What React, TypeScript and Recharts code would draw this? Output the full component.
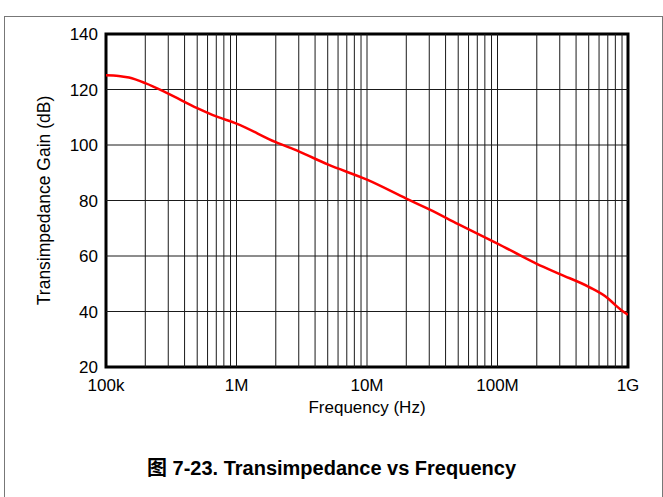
import {
  LineChart, Line, XAxis, YAxis, ReferenceLine, ReferenceArea, Label,
} from "recharts";

// Gain curve
const freqHz = [
  1e5, 1.25e5, 1.5e5, 2e5, 3e5, 5e5, 7e5, 1e6, 2e6, 3e6, 5e6, 1e7, 2e7, 3e7,
  5e7, 1e8, 2e8, 3e8, 5e8, 7e8, 8e8, 9e8, 1e9,
];
const gainDb = [
  125.1, 124.9, 124.3, 122.3, 118.5, 113.3, 110.3, 107.7, 101, 97.7, 93, 87.5,
  80.7, 76.8, 71.5, 64.5, 57.2, 53.5, 48.9, 44.8, 42.3, 40.3, 38.8,
];

const xTicks = [1e5, 1e6, 1e7, 1e8, 1e9];
const xTickLabels = ["100k", "1M", "10M", "100M", "1G"];
const yTicks = [20, 40, 60, 80, 100, 120, 140];
const decades = [1e5, 1e6, 1e7, 1e8];
const multipliers = [2, 3, 4, 5, 6, 7, 8, 9];

const data = freqHz.map((f, i) => ({ freq: f, gain: gainDb[i] }));
const minorLines = decades.flatMap((d) => multipliers.map((m) => d * m));

const FONT = "'Liberation Sans', Arial, sans-serif";
const GRID = "#1a1a1a";

export default function App() {
  return (
    <div
      style={{
        position: "absolute",
        left: 0,
        top: 0,
        width: 663,
        height: 497,
        background: "white",
        fontFamily: FONT,
      }}
    >
      {/* figure frame */}
      <div style={{ position: "absolute", left: 4, top: 16, width: 657, height: 481, borderLeft: "1px solid #777", borderTop: "1px solid #777", borderRight: "1px solid #777" }} />

      <div style={{ position: "absolute", left: 0, top: 0 }}>
        <LineChart
          width={663}
          height={420}
          data={data}
          margin={{ top: 34, right: 35, left: 46, bottom: 23 }}
        >
          <XAxis
            dataKey="freq"
            type="number"
            scale="log"
            domain={[1e5, 1e9]}
            ticks={xTicks}
            tickFormatter={(v: number) => xTickLabels[xTicks.indexOf(v)] ?? ""}
            tick={{ fill: "#000", fontSize: 17, fontFamily: FONT }}
            tickLine={false}
            axisLine={false}
            tickMargin={6}
            height={30}
            allowDataOverflow
          >
            <Label value="Frequency (Hz)" position="insideBottom" offset={-16} style={{ fill: "#000", fontSize: 17, fontFamily: FONT }} />
          </XAxis>
          <YAxis
            type="number"
            domain={[20, 140]}
            ticks={yTicks}
            tick={{ fill: "#000", fontSize: 17, fontFamily: FONT }}
            tickLine={false}
            axisLine={false}
            width={60}
            allowDataOverflow
          >
            <Label value="Transimpedance Gain (dB)" angle={-90} position="insideLeft" offset={-2} style={{ fill: "#000", fontSize: 17.5, fontFamily: FONT, textAnchor: "middle" }} />
          </YAxis>

          {minorLines.map((f) => (
            <ReferenceLine key={"v" + f} x={f} stroke={GRID} strokeWidth={1} />
          ))}
          {xTicks.slice(1, -1).map((f) => (
            <ReferenceLine key={"d" + f} x={f} stroke={GRID} strokeWidth={1} />
          ))}
          {yTicks.slice(1, -1).map((g) => (
            <ReferenceLine key={"h" + g} y={g} stroke={GRID} strokeWidth={1} />
          ))}

          <Line
            type="monotone"
            dataKey="gain"
            stroke="#ff0000"
            strokeWidth={2.5}
            dot={false}
            isAnimationActive={false}
          />

          <ReferenceArea x1={1e5} x2={1e9} y1={20} y2={140} fill="none" stroke="#000" strokeWidth={3} fillOpacity={0} />
        </LineChart>
      </div>

      <div
        style={{
          position: "absolute",
          left: 0,
          width: 663,
          top: 452,
          textAlign: "center",
          fontSize: 20,
          fontWeight: "bold",
          fontFamily: "'Liberation Sans', Arial, 'Noto Sans CJK SC', sans-serif",
          color: "#000",
        }}
      >
        图 7-23. Transimpedance vs Frequency
      </div>
    </div>
  );
}
